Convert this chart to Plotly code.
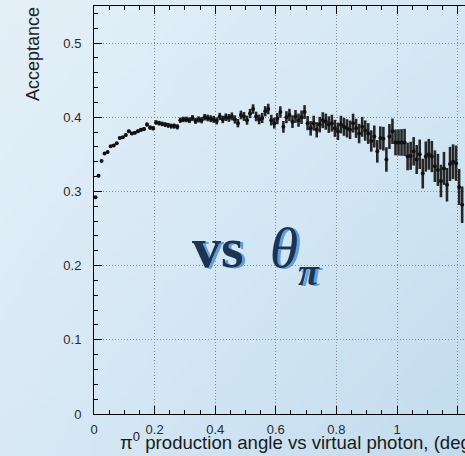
import base64, struct, zlib
import plotly.graph_objects as go

# ---------------- data ----------------
bin_width = 0.01
acceptance = [
    0.292, 0.321, 0.341, 0.351, 0.353, 0.361, 0.362, 0.365, 0.372, 0.373,
    0.376, 0.381, 0.378, 0.379, 0.381, 0.383, 0.384, 0.390, 0.386, 0.385,
    0.393, 0.392, 0.391, 0.390, 0.389, 0.388, 0.388, 0.387, 0.396, 0.397,
    0.397, 0.396, 0.399, 0.395, 0.397, 0.396, 0.400, 0.399, 0.398, 0.397,
    0.395, 0.401, 0.397, 0.400, 0.399, 0.401, 0.397, 0.392, 0.403, 0.401,
    0.396, 0.405, 0.411, 0.401, 0.397, 0.399, 0.408, 0.411, 0.396, 0.392,
    0.398, 0.407, 0.387, 0.400, 0.403, 0.394, 0.401, 0.396, 0.400, 0.407,
    0.392, 0.385, 0.392, 0.383, 0.390, 0.396, 0.394, 0.390, 0.392, 0.385,
    0.381, 0.390, 0.387, 0.385, 0.383, 0.392, 0.385, 0.378, 0.387, 0.382,
    0.378, 0.368, 0.374, 0.354, 0.372, 0.371, 0.343, 0.374, 0.381, 0.366,
    0.366, 0.366, 0.366, 0.347, 0.348, 0.354, 0.343, 0.350, 0.324, 0.347,
    0.350, 0.347, 0.334, 0.329, 0.314, 0.331, 0.309, 0.337, 0.340, 0.338,
    0.306, 0.282,
]
errors = [
    0.0012, 0.0013, 0.0014, 0.0014, 0.0015, 0.0015, 0.0016, 0.0016, 0.0017, 0.0018,
    0.0020, 0.0021, 0.0022, 0.0023, 0.0024, 0.0025, 0.0026, 0.0027, 0.0028, 0.0029,
    0.0030, 0.0031, 0.0031, 0.0032, 0.0033, 0.0034, 0.0034, 0.0035, 0.0036, 0.0037,
    0.0038, 0.0039, 0.0040, 0.0041, 0.0042, 0.0043, 0.0044, 0.0045, 0.0046, 0.0047,
    0.0048, 0.0049, 0.0050, 0.0051, 0.0053, 0.0054, 0.0055, 0.0057, 0.0058, 0.0060,
    0.0061, 0.0062, 0.0064, 0.0065, 0.0066, 0.0068, 0.0069, 0.0071, 0.0072, 0.0074,
    0.0075, 0.0077, 0.0079, 0.0081, 0.0083, 0.0085, 0.0087, 0.0089, 0.0091, 0.0093,
    0.0095, 0.0098, 0.0100, 0.0103, 0.0105, 0.0107, 0.0109, 0.0111, 0.0113, 0.0115,
    0.0117, 0.0119, 0.0121, 0.0123, 0.0125, 0.0127, 0.0129, 0.0131, 0.0134, 0.0137,
    0.0140, 0.0144, 0.0148, 0.0152, 0.0156, 0.0160, 0.0165, 0.0168, 0.0171, 0.0174,
    0.0177, 0.0180, 0.0183, 0.0186, 0.0189, 0.0192, 0.0195, 0.0198, 0.0201, 0.0204,
    0.0207, 0.0210, 0.0213, 0.0216, 0.0219, 0.0222, 0.0226, 0.0230, 0.0234, 0.0238,
    0.0242, 0.0246,
]
angle = [round(bin_width * (i + 0.5), 4) for i in range(len(acceptance))]

# ---------------- background gradient (style only) ----------------
def gradient_png(w=64, h=64):
    tl, tr, bl, br = (228, 240, 248), (213, 232, 244), (216, 233, 245), (194, 220, 238)
    rows = b""
    for j in range(h):
        v = j / (h - 1)
        row = b"\x00"
        for i in range(w):
            u = i / (w - 1)
            px = [int(round((1-u)*(1-v)*tl[k] + u*(1-v)*tr[k] + (1-u)*v*bl[k] + u*v*br[k])) for k in range(3)]
            row += bytes(px)
        rows += row
    def chunk(t, d):
        c = struct.pack(">I", len(d)) + t + d
        return c + struct.pack(">I", zlib.crc32(t + d) & 0xffffffff)
    png = b"\x89PNG\r\n\x1a\n" + chunk(b"IHDR", struct.pack(">IIBBBBB", w, h, 8, 2, 0, 0, 0)) \
        + chunk(b"IDAT", zlib.compress(rows)) + chunk(b"IEND", b"")
    return "data:image/png;base64," + base64.b64encode(png).decode()

W, H = 465, 456
L, R, T, B = 94, 0, 6, 42
pw, ph = W - L - R, H - T - B

def px_x(p):
    return (p - L) / pw

def px_y(p):
    return (T + ph - p) / ph

fig = go.Figure()
fig.add_trace(go.Scatter(
    x=angle, y=acceptance, mode="markers",
    marker=dict(color="#111111", size=4, symbol="circle"),
    error_y=dict(type="data", array=errors, visible=True, color="#262626", thickness=2.6, width=0),
    showlegend=False, hoverinfo="skip"))

axis_common = dict(
    showline=True, linecolor="black", linewidth=1,
    ticks="inside", tickcolor="black", tickwidth=1,
    showgrid=True, gridcolor="#8c8c8c", griddash="1px,2px", gridwidth=1,
    zeroline=False,
    tickfont=dict(family="Liberation Sans, Arial", size=13, color="#2a2a2a"),
)
fig.update_xaxes(range=[0, pw / 303.0], dtick=0.2, tick0=0, ticklen=8, mirror="ticks",
                 minor=dict(dtick=0.05, ticks="inside", ticklen=4, tickcolor="black", showgrid=False),
                 ticklabelstandoff=3, **axis_common)
fig.update_yaxes(range=[0, ph / 742.0], dtick=0.1, tick0=0, ticklen=8, mirror=False,
                 minor=dict(dtick=0.02, ticks="inside", ticklen=4, tickcolor="black", showgrid=False),
                 ticklabelstandoff=9, **axis_common)

fig.add_layout_image(dict(source=gradient_png(), xref="paper", yref="paper",
                          x=-L / pw, y=1 + T / ph, sizex=W / pw, sizey=H / ph,
                          sizing="stretch", layer="below", xanchor="left", yanchor="top"))

fig.add_annotation(text="Acceptance", xref="paper", yref="paper", x=px_x(33), y=px_y(5),
                   xanchor="center", yanchor="top", textangle=-90, showarrow=False,
                   font=dict(family="Liberation Sans, Arial", size=18, color="#222222"))
fig.add_annotation(text="π<sup>0</sup> production angle vs virtual photon, (deg)", xref="paper", yref="paper",
                   x=px_x(118), y=px_y(455), xanchor="left", yanchor="bottom", showarrow=False,
                   font=dict(family="Liberation Sans, Arial", size=18.6, color="#1a1a1a"))

serif = "Liberation Serif, Times New Roman"
for dx, dy, col in [(3, 1, "#5f9fe0"), (0, 0, "#1e3350")]:
    fig.add_annotation(text="<b>vs</b> &#8201;<i>θ</i>", xref="paper", yref="paper",
                       x=px_x(190 + dx), y=px_y(247 + dy),
                       xanchor="left", yanchor="middle", showarrow=False,
                       font=dict(family=serif, size=58, color=col))
    fig.add_annotation(text="<b><i>π</i></b>", xref="paper", yref="paper",
                       x=px_x(296 + dx), y=px_y(272 + dy),
                       xanchor="left", yanchor="middle", showarrow=False,
                       font=dict(family=serif, size=38, color=col))

fig.update_layout(width=W, height=H, margin=dict(l=L, r=R, t=T, b=B, pad=0),
                  paper_bgcolor="rgba(0,0,0,0)", plot_bgcolor="rgba(0,0,0,0)")
fig.write_html("out.html")
